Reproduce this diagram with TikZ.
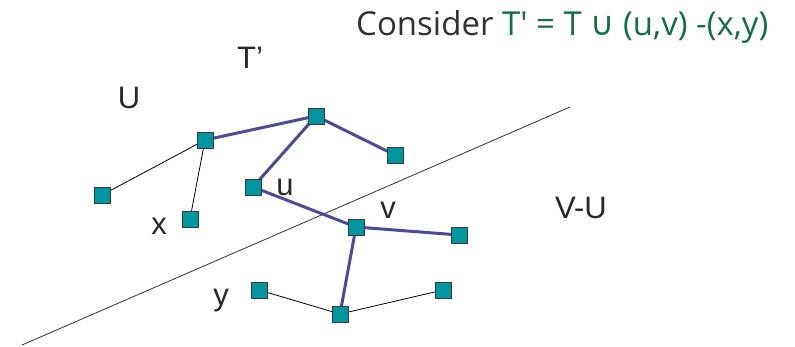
\documentclass[tikz,border=0pt]{standalone}
\usepackage{fontspec}
\setmainfont{Liberation Sans}
\newfontfamily\titlefont{Open Sans}
\newfontfamily\symfont{DejaVu Sans}
\usetikzlibrary{backgrounds}
\definecolor{sqfill}{RGB}{0,150,160}
\definecolor{sqdraw}{RGB}{60,60,60}
\definecolor{treeedge}{RGB}{75,75,150}
\definecolor{titlegreen}{RGB}{20,110,70}
\definecolor{titlegray}{RGB}{50,50,50}
\definecolor{labelgray}{RGB}{40,40,40}
\tikzset{
  vtx/.style={draw=sqdraw, line width=0.8pt, fill=sqfill, minimum size=16pt, inner sep=0pt, outer sep=0pt},
  treeline/.style={draw=treeedge, line width=3pt},
  thinline/.style={draw=black, line width=0.8pt},
  lbl/.style={anchor=base, inner sep=0pt, text=labelgray, font=\fontsize{31}{31}\selectfont},
  divider/.style={draw=black!80, line width=0.8pt}
}
\begin{document}
\begin{tikzpicture}[x=1pt, y=-1pt]
\useasboundingbox (0,0) rectangle (795,346);
% squares
\node[vtx] (a) at (205,140) {};
\node[vtx] (b) at (316,116) {};
\node[vtx] (c) at (395,155) {};
\node[vtx] (d) at (102,195) {};
\node[vtx] (x) at (190,219) {};
\node[vtx] (u) at (253,187) {};
\node[vtx] (v) at (356,227) {};
\node[vtx] (e) at (459,235) {};
\node[vtx] (y) at (259,290) {};
\node[vtx] (f) at (340,314) {};
\node[vtx] (g) at (443,290) {};
% dividing line
\coordinate (l1) at (22,345);
\coordinate (l2) at (570,107);
\begin{pgfonlayer}{background}
\draw[divider] (l1) -- (l2);
\draw[thinline] (a.center) -- (d.center);
\draw[thinline] (a.center) -- (x.center);
\draw[thinline] (y.center) -- (f.center);
\draw[thinline] (f.center) -- (g.center);
\draw[treeline] (a.center) -- (b.center);
\draw[treeline] (b.center) -- (c.center);
\draw[treeline] (b.center) -- (u.center);
\draw[treeline] (u.center) -- (v.center);
\draw[treeline] (v.center) -- (e.center);
\draw[treeline] (v.center) -- (f.center);
\end{pgfonlayer}
% labels
\node[lbl] (tp) at (250,68) {T’};
\node[lbl] (ul) at (129,108) {U};
\node[lbl] (ulow) at (285,195) {u};
\node[lbl] (vlow) at (388,218) {v};
\node[lbl] (xlow) at (159,234) {x};
\node[lbl] (ylow) at (221,305) {y};
\node[lbl] (vu) at (581,218) {V-U};
% title
\node[anchor=base west, inner sep=0pt, font=\titlefont\fontsize{33}{33}\selectfont] (title) at (356,35)
  {\textcolor{titlegray}{Consider} \textcolor{titlegreen}{T' = T {\symfont ∪} (u,v) -(x,y)}};
\end{tikzpicture}
\end{document}
